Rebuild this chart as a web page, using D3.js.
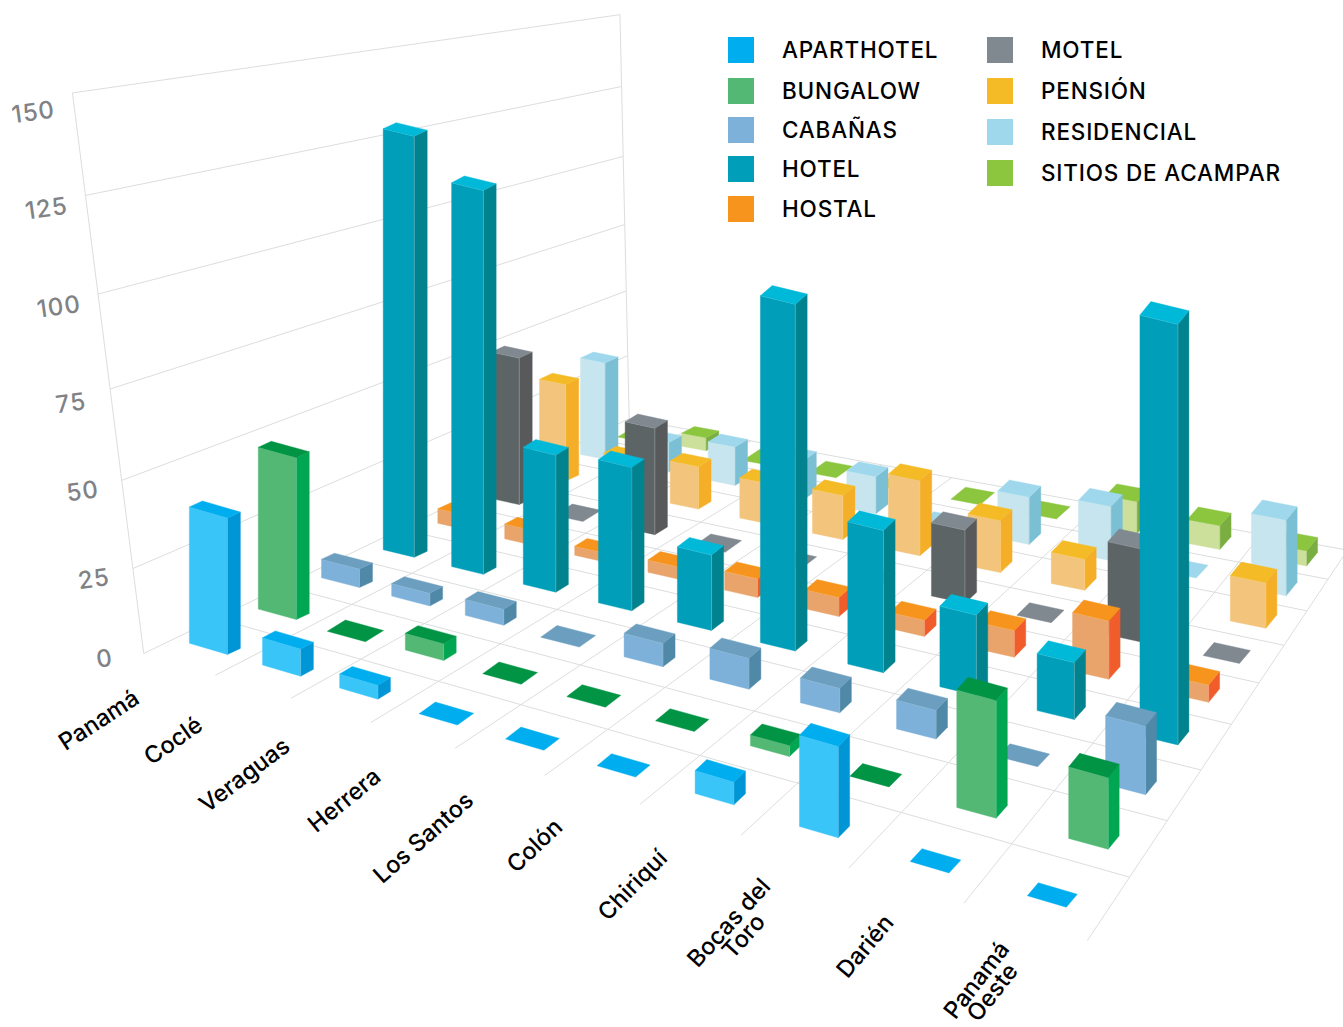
<!DOCTYPE html>
<html><head><meta charset="utf-8">
<script src="https://cdn.jsdelivr.net/npm/d3@7"></script>
<style>html,body{margin:0;background:#fff;overflow:hidden}svg{display:block;font-family:Inter,"Noto Sans",sans-serif}</style>
</head><body><svg id="c" width="1343" height="1027"></svg>
<script>
const categories = ["Panamá","Coclé","Veraguas","Herrera","Los Santos","Colón","Chiriquí","Bocas del|Toro","Darién","Panamá|Oeste"];
const seriesNames = ["APARTHOTEL","BUNGALOW","CABAÑAS","HOTEL","HOSTAL","MOTEL","PENSIÓN","RESIDENCIAL","SITIOS DE ACAMPAR"];
const aparthotel  = [40,8,4,0,0,0,6,23,0,0];
const bungalow    = [49,0,5,0,0,0,3,0,30,18];
const cabanas     = [6,4,5,0,7,9,7,8,0,18];
const hotel       = [130,117,43,44,23,98,41,23,16,107];
const hostal      = [5,5,3,4,6,6,5,8,17,5];
const motel       = [51,0,36,0,0,0,23,0,28,0];
const pension     = [35,13,15,14,15,25,17,10,0,14];
const residencial = [36,11,14,14,13,0,16,18,0,24];
const sitios      = [0,5,0,0,0,0,0,11,8,5];
const yTicks = [0,25,50,75,100,125,150];
const frontColors = ["#39c5f8","#52b874","#7db1d9","#009eb8","#e8a46a","#5d6466","#f2c47c","#c7e5ee","#cde09b"];
const sideColors  = ["#0096d6","#00a651","#5089a8","#00838f","#f15d2a","#58595b","#f5ae27","#7bbfd4","#7bae41"];
const topColors   = ["#00aeef","#009444","#6b9ebf","#00b9d9","#f7941d","#808890","#f4bb27","#9fd8ec","#8cc63f"];
const legendColors= ["#00aeef","#52b874","#7db1d9","#009eb8","#f7941d","#808890","#f4bb27","#9fd8ec","#8cc63f"];
const values = [aparthotel,bungalow,cabanas,hotel,hostal,motel,pension,residencial,sitios];

const nC = categories.length, nS = seriesNames.length;

const calib = [
 [0,0,0,143,652],[10,0,0,1087,941],[10,9,0,1347,550],[0,9,0,630,419],
 [0,0,150,73,93],[0,9,150,620,14],[5,0,0,545,776],[10,4,0,1232,724],
 [0,0,75,110,390],[0,9,75,624,225]
];
function solveCamera(pts){
  const A=[],b=[];
  pts.forEach(([x,z,y,u,v])=>{
    A.push([x,z,y,1,0,0,0,0,-u*x,-u*z,-u*y]);b.push(u);
    A.push([0,0,0,0,x,z,y,1,-v*x,-v*z,-v*y]);b.push(v);
  });
  const n=11,M=d3.range(n).map(i=>d3.range(n+1).map(j=>{
    let s=0;A.forEach((r,k)=>{s+=r[i]*(j<n?r[j]:b[k]);});return s;}));
  for(let i=0;i<n;i++){
    let p=i;for(let r=i+1;r<n;r++)if(Math.abs(M[r][i])>Math.abs(M[p][i]))p=r;
    [M[i],M[p]]=[M[p],M[i]];
    for(let r=0;r<n;r++)if(r!==i){const f=M[r][i]/M[i][i];for(let c=i;c<=n;c++)M[r][c]-=f*M[i][c];}
  }
  return M.map((r,i)=>r[n]/r[i]);
}
const P = solveCamera(calib);
function project(x,z,y){
  const w=P[8]*x+P[9]*z+P[10]*y+1;
  return [(P[0]*x+P[1]*z+P[2]*y+P[3])/w,(P[4]*x+P[5]*z+P[6]*y+P[7])/w];
}
const xCenter = d3.scalePoint().domain(d3.range(nC)).range([0.5,nC-0.5]);
const zCenter = d3.scalePoint().domain(d3.range(nS)).range([0.5,nS-0.5]);
const yScale = d3.scaleLinear().domain([0,150]).range([0,150]);
const wLeft = d3.scaleLinear().domain([0,2,3,8]).range([38,38,31,23]);
const wRight = d3.scaleLinear().domain([0,2,3,8]).range([39,40,38,34]);
const depthXBar = d3.scaleLinear().domain([0,nC-1]).range([13,11]);
const depthXFlat = d3.scaleLinear().domain([0,nC-1]).range([19,11]);
const depthYBar = d3.scaleLinear().domain([0,nC-1]).range([-6,-13.5]);
const depthYFlat = d3.scaleLinear().domain([0,nC-1]).range([-11,-13]);
const nudgeX = d3.scaleLinear().domain([0,nC-1]).range([-1,1.5]);
const rowNudgeX = [0,0,0,0,0,3,4,1,0];
const frontC = d3.scaleLinear().domain([6,8]).range([0,1]).clamp(true);
const frontY = d3.scaleLinear().domain([1,3]).range([5,0]).clamp(true);
const frontX = d3.scaleLinear().domain([0,3]).range([3,0]).clamp(true);

const svg = d3.select("#c");
const line = d3.line();
const grid = svg.append("g").attr("fill","none").attr("stroke","#dcdddd").attr("stroke-width",1);
function seg(a,b){grid.append("path").attr("d",line([project(...a),project(...b)]));}
d3.range(nC+1).forEach(i=>seg([i,0,0],[i,nS,0]));
d3.range(1,nS+1).forEach(j=>seg([0,j,0],[nC,j,0]));
seg([0,0,0],[0,0,150]);seg([0,nS,0],[0,nS,150]);
yTicks.filter(t=>t>0).forEach(t=>seg([0,0,yScale(t)],[0,nS,yScale(t)]));

const cells=[];
d3.range(nS-1,-1,-1).forEach(s=>d3.range(nC).forEach(c=>cells.push({c,s,v:values[s][c]})));
const barG = svg.append("g");
cells.forEach(d=>{
  const cx=xCenter(d.c),cz=zCenter(d.s);
  const o=project(cx,cz,0);
  const a=project(cx-.5,cz,0),b=project(cx+.5,cz,0);
  const w=wLeft(d.s)+(wRight(d.s)-wLeft(d.s))*d.c/(nC-1);
  const ux=[(b[0]-a[0]),(b[1]-a[1])];
  const kx=w/2/ux[0];
  const flat=d.v===0;
  const zv=[(flat?depthXFlat:depthXBar)(d.c)/2,(flat?depthYFlat:depthYBar)(d.c)/2];
  const ox=o[0]+nudgeX(d.c)+rowNudgeX[d.s]+frontC(d.c)*frontX(d.s),oy=o[1]+frontC(d.c)*frontY(d.s);
  const base=(sx,sz)=>[ox+sx*kx*ux[0]+sz*zv[0],oy+sx*kx*ux[1]+sz*zv[1]];
  const h=o[1]-project(cx,cz,yScale(d.v))[1];
  const up=p=>[p[0],p[1]-h];
  const FL=base(-1,-1),FR=base(1,-1),BR=base(1,1),BL=base(-1,1);
  const g=barG.append("g");
  const poly=(pts,fill)=>g.append("path").attr("d",line(pts)+"Z").attr("fill",fill).attr("stroke",fill).attr("stroke-width",0.4);
  if(!flat){
    poly([FL,FR,up(FR),up(FL)],frontColors[d.s]);
    poly([FR,BR,up(BR),up(FR)],sideColors[d.s]);
    g.append("path").attr("d",line([FR,up(FR),up(FL)])).attr("fill","none").attr("stroke","rgba(255,255,255,.35)").attr("stroke-width",0.7);
  }
  poly([up(FL),up(FR),up(BR),up(BL)],topColors[d.s]);
});

const tickG=svg.append("g").attr("fill","#808285").attr("font-size",24).attr("font-weight",500).attr("letter-spacing",1);
const tickNudgeY=[0,3,1,2,-2,-4,0];
yTicks.forEach((t,i)=>{
  const [x,y]=project(0,0,yScale(t));
  tickG.append("text").attr("text-anchor","middle")
    .attr("transform",`translate(${x-38},${y+13+t*0.096+tickNudgeY[i]}) rotate(-8)`).text(t);
});
const labG=svg.append("g").attr("fill","#000").attr("font-size",23.5).attr("font-weight",500);
const ldx=d3.scaleLinear().domain([0,nC-1]).range([-38,-14]);
const lrot=d3.scaleLinear().domain([0,nC-1]).range([-33,-52]);
const labelNudgeX=[0,-13,-6,0,3,-3,1,-3,6,0];
const labelNudgeY=[2,6,3,8,5,3,4,0,2,-8];
categories.forEach((n,i)=>{
  const [x,y]=project(xCenter(i),0,0);
  const parts=n.split("|");
  const t=labG.append("text").attr("text-anchor",parts.length>1?"middle":"end")
    .attr("transform",`translate(${x+ldx(i)+labelNudgeX[i]},${y+36+labelNudgeY[i]}) rotate(${lrot(i)})`);
  parts.forEach((p,k)=>t.append("tspan").attr("x",0).attr("dy",k?20:0).text(p));
  if(parts.length>1){
    const L=t.node().querySelector("tspan").getComputedTextLength();
    t.attr("transform",t.attr("transform")+` translate(${-L/2},0)`);
  }
});
const lg=svg.append("g").attr("font-size",22.5).attr("font-weight",500).attr("fill","#000").attr("letter-spacing",0.82);
const legendY=[[50,91,130,169,209],[50,91,132,173]];
seriesNames.forEach((n,i)=>{
  const col=i<5?0:1,row=i<5?i:i-5,x=col?987:728,y=legendY[col][row];
  lg.append("rect").attr("x",x).attr("y",y-13).attr("width",26).attr("height",26).attr("fill",legendColors[i]);
  lg.append("text").attr("x",col?1041:782).attr("y",y+8).text(n);
});
</script></body></html>
